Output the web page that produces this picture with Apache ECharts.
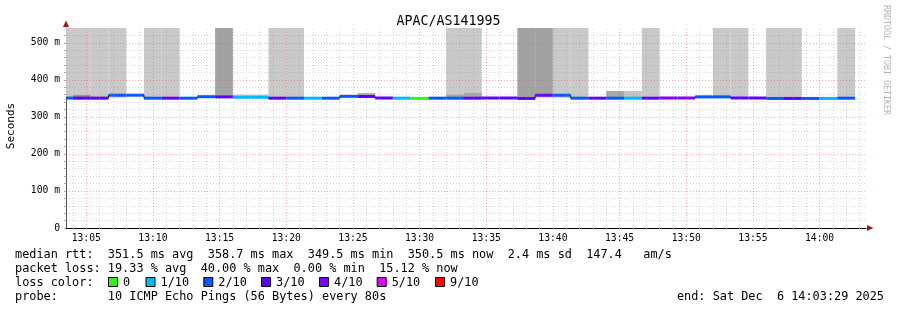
<!DOCTYPE html>
<html><head><meta charset="utf-8">
<script src="https://cdn.jsdelivr.net/npm/echarts@6/dist/echarts.min.js"></script>
<style>html,body{margin:0;padding:0;background:#fff}#c{width:897px;height:310px}</style>
</head><body><div id="c"></div>
<script>
// ---- data ----
const chartTitle = 'APAC/AS141995';
const rangeStart = '13:03:29';
const rangeEnd = '14:03:29';
const stepStarts = ['13:02:40','13:04:00','13:05:20','13:06:40','13:08:00','13:09:20','13:10:40','13:12:00','13:13:20','13:14:40',
  '13:16:00','13:17:20','13:18:40','13:20:00','13:21:20','13:22:40','13:24:00','13:25:20','13:26:40','13:28:00',
  '13:29:20','13:30:40','13:32:00','13:33:20','13:34:40','13:36:00','13:37:20','13:38:40','13:40:00','13:41:20',
  '13:42:40','13:44:00','13:45:20','13:46:40','13:48:00','13:49:20','13:50:40','13:52:00','13:53:20','13:54:40',
  '13:56:00','13:57:20','13:58:40','14:00:00','14:01:20'];
const lastStepEnd = '14:02:40';
const medianMs = [350.8,350.5,350.5,358.6,358.6,350.5,350.5,350.5,354.5,354.0,
  353.0,353.0,350.5,350.5,350.5,350.5,355.5,355.0,351.0,350.5,
  350.0,350.5,350.5,350.5,351.0,351.0,349.8,358.5,358.5,350.5,
  350.5,350.5,350.5,350.5,351.0,351.0,354.0,354.0,351.0,351.0,
  349.8,349.8,349.8,349.8,350.5];
const lossTenths = [2,3,3,2,2,2,3,2,2,3,
  1,1,3,2,1,2,2,3,3,1,
  0,2,2,3,3,3,3,3,2,2,
  3,2,1,3,4,4,2,2,3,3,
  2,3,2,1,2];
// outlier pings above the graph top: 0 none, 1 one ping (light), 2 two pings (darker)
const spikeShade = [1,1,1,1,0,1,1,0,0,2,
  0,0,1,1,0,0,0,0,0,0,
  0,0,1,1,0,0,2,2,1,1,
  0,0,0,1,0,0,0,1,1,0,
  1,1,0,0,1];
const smokeLow = [null,350.5,350.5,352,null,null,null,null,null,null,
  353,353,null,null,null,null,null,354,null,null,
  null,null,350.5,350.5,null,null,null,352,352,null,
  null,351,351,null,null,null,352,352,null,null,
  null,null,null,null,null];
const smokeHigh = [null,358.5,355,358.6,null,null,null,null,null,null,
  360,360,null,null,null,null,null,364,null,null,
  null,null,360,365,null,null,null,358.5,358.5,null,
  null,370,370,null,null,null,357,357,null,null,
  null,null,null,null,null];
const smokeShade = [null,3,2,1,null,null,null,null,null,null,
  1,1,null,null,null,null,null,2,null,null,
  null,null,2,2,null,null,null,1,1,null,
  null,2,1,null,null,null,2,2,null,null,
  null,null,null,null,null];
const yMax = 540;
const yLabelValues = [0,100,200,300,400,500];
const xLabelTimes = ['13:05','13:10','13:15','13:20','13:25','13:30','13:35','13:40','13:45','13:50','13:55','14:00'];
const lossLegendLabels = ['0','1/10','2/10','3/10','4/10','5/10','9/10'];
const lossLegendTenths = [0,1,2,3,4,5,9];
const lossColors = {0:'#26ff00',1:'#00b8ff',2:'#0059ff',3:'#5e00ff',4:'#7e00ff',5:'#dd00ff',9:'#ff0000'};
const rttStats = ['351.5','358.7','349.5','350.5','2.4','147.4'];
const lossStats = ['19.33','40.00','0.00','15.12'];
const probeText = '10 ICMP Echo Pings (56 Bytes) every 80s';
const endText = 'Sat Dec  6 14:03:29 2025';

// ---- helpers ----
function toMin(s){const p=s.split(':').map(Number);return (p[0]-13)*60+p[1]+(p[2]||0)/60;}
const xMin = toMin(rangeStart), xMax = toMin(rangeEnd);
const stepEnds = stepStarts.slice(1).concat([lastStepEnd]);
const MONO = '"DejaVu Sans Mono", monospace';
const spikeFill = {1:'#c9c9c9',2:'#a2a2a2'};
const smokeFill = {1:'#c4c4c4',2:'#a8a8a8',3:'#8c8c8c'};

const spikeData = [], smokeData = [], medianData = [];
stepStarts.forEach((s,i)=>{
  const t0 = toMin(s), t1 = toMin(stepEnds[i]);
  if (spikeShade[i]) spikeData.push([t0,t1,medianMs[i],yMax,spikeShade[i]]);
  if (smokeLow[i]!=null) smokeData.push([t0,t1,smokeLow[i],smokeHigh[i],smokeShade[i]]);
  medianData.push([t0,t1,medianMs[i],lossTenths[i], i>0?medianMs[i-1]:medianMs[i]]);
});

function clipRect(p0,p1,cs){
  return echarts.graphic.clipRectByRect(
    {x:p0[0],y:p0[1],width:p1[0]-p0[0],height:p1[1]-p0[1]},
    {x:cs.x,y:cs.y,width:cs.width,height:cs.height});
}
function rectRender(fills){
  return function(params, api){
    const p0 = api.coord([api.value(0), api.value(3)]);
    const p1 = api.coord([api.value(1), api.value(2)]);
    const shape = clipRect(p0,p1,params.coordSys);
    if (!shape) return;
    return {type:'rect', shape, style:{fill:fills[api.value(4)]}};
  };
}

// grid lines (markLine)
const minorColor = 'rgba(150,150,150,0.38)';
const majorColor = 'rgba(255,70,70,0.42)';
const gridLines = [];
for (let m = Math.ceil(xMin); m <= Math.floor(xMax); m++) {
  if (m % 5 !== 0) gridLines.push({xAxis:m, lineStyle:{color:minorColor}});
}
for (let v = 20; v < yMax; v += 20) {
  if (v % 100 !== 0) gridLines.push({yAxis:v, lineStyle:{color:minorColor}});
}
xLabelTimes.forEach(t=>gridLines.push({xAxis:toMin(t), lineStyle:{color:majorColor}}));
yLabelValues.slice(1).forEach(v=>gridLines.push({yAxis:v, lineStyle:{color:majorColor}}));

const minuteTicks = [];
for (let m = Math.ceil(xMin); m <= Math.floor(xMax); m++) minuteTicks.push(m);
const yMinorTicks = [];
for (let v = 0; v < yMax; v += 20) yMinorTicks.push(v);

// legend graphics
const g = [];
const rowY = [255,269,283,297];
const F = '11.86px '+MONO;
g.push({type:'text', x:15, y:rowY[0], style:{text:'median rtt:  '+rttStats[0]+' ms avg  '+rttStats[1]+' ms max  '+rttStats[2]+' ms min  '+rttStats[3]+' ms now  '+rttStats[4]+' ms sd  '+rttStats[5]+'   am/s', font:F, fill:'#000', textVerticalAlign:'middle'}});
g.push({type:'text', x:15, y:rowY[1], style:{text:'packet loss: '+lossStats[0]+' % avg  '+lossStats[1]+' % max  '+lossStats[2]+' % min  '+lossStats[3]+' % now', font:F, fill:'#000', textVerticalAlign:'middle'}});
g.push({type:'text', x:15, y:rowY[2], style:{text:'loss color:', font:F, fill:'#000', textVerticalAlign:'middle'}});
const boxX = [108,145.5,203.3,261,319,376.7,435];
lossLegendLabels.forEach((lab,i)=>{
  g.push({type:'rect', shape:{x:boxX[i]+0.5, y:rowY[2]-5.5, width:9, height:9}, style:{fill:lossColors[lossLegendTenths[i]], stroke:'#000', lineWidth:1}});
  g.push({type:'text', x:boxX[i]+15, y:rowY[2], style:{text:lab, font:F, fill:'#000', textVerticalAlign:'middle'}});
});
g.push({type:'text', x:15, y:rowY[3], style:{text:'probe:       '+probeText, font:F, fill:'#000', textVerticalAlign:'middle'}});
g.push({type:'text', x:884, y:rowY[3], style:{text:'end: '+endText, font:F, fill:'#000', textAlign:'right', textVerticalAlign:'middle'}});
g.push({type:'text', x:11, y:126, rotation:Math.PI/2, style:{text:'Seconds', font:'11px '+MONO, fill:'#000', textAlign:'center', textVerticalAlign:'middle'}});
g.push({type:'text', x:886, y:5, rotation:-Math.PI/2, style:{text:'RRDTOOL / TOBI OETIKER', font:'8.3px '+MONO, fill:'#b4b4b4', textAlign:'left', textVerticalAlign:'middle'}});
g.push({type:'polygon', shape:{points:[[63,27],[69,27],[66,20.5]]}, style:{fill:'#9a1c1c'}});
g.push({type:'polygon', shape:{points:[[867,225],[867,231],[873.5,228]]}, style:{fill:'#9a1c1c'}});

const chart = echarts.init(document.getElementById('c'), null, {renderer:'canvas'});
chart.setOption({
  animation:false,
  backgroundColor:'#fff',
  title:{text:chartTitle, left:'center', top:10, textStyle:{fontFamily:MONO, fontSize:13.3, fontWeight:'normal', color:'#000'}},
  grid:{left:66, right:31, top:28, bottom:82, containLabel:false},
  xAxis:{type:'value', min:xMin, max:xMax,
    axisLine:{show:true, lineStyle:{color:'#000', width:1}},
    axisTick:{show:true, customValues:minuteTicks, length:2, lineStyle:{color:'#aaa'}},
    axisLabel:{customValues:xLabelTimes.map(toMin), margin:5, fontFamily:MONO, fontSize:9.7, color:'#000',
      formatter:v=>{const h=13+Math.floor(v/60), m=Math.round(v%60);return h+':'+String(m).padStart(2,'0');}},
    splitLine:{show:false}},
  yAxis:{type:'value', min:0, max:yMax,
    axisLine:{show:true, lineStyle:{color:'#555', width:1}},
    axisTick:{show:true, customValues:yMinorTicks, length:2, lineStyle:{color:'#aaa'}},
    axisLabel:{customValues:yLabelValues, margin:6, fontFamily:MONO, fontSize:9.7, color:'#000',
      formatter:v=>v===0?'0':v+' m'},
    splitLine:{show:false}},
  graphic:g,
  series:[
    {type:'custom', name:'spikes', z:1, data:spikeData, encode:{x:[0,1], y:[2,3]}, renderItem:rectRender(spikeFill), silent:true},
    {type:'line', name:'grid', z:2, data:[[xMin,-10]], symbol:'none', lineStyle:{opacity:0}, silent:true,
      markLine:{silent:true, symbol:'none', label:{show:false}, animation:false, lineStyle:{width:1, type:[1,2]}, data:gridLines}},
    {type:'custom', name:'smoke', z:3, data:smokeData, encode:{x:[0,1], y:[2,3]}, renderItem:rectRender(smokeFill), silent:true},
    {type:'custom', name:'median', z:4, data:medianData, encode:{x:[0,1], y:2}, silent:true,
      renderItem:function(params, api){
        const t0=api.value(0), t1=api.value(1), v=api.value(2), loss=api.value(3), pv=api.value(4);
        const cs=params.coordSys;
        const a=api.coord([t0,v]), b=api.coord([t1,v]);
        const x0=Math.max(a[0],cs.x), x1=Math.min(b[0],cs.x+cs.width);
        const ch=[{type:'line', shape:{x1:x0,y1:a[1],x2:x1,y2:b[1]}, style:{stroke:lossColors[loss], lineWidth:3}}];
        if (Math.abs(pv-v)>1 && a[0]>=cs.x) {
          const pp=api.coord([t0,pv]);
          ch.push({type:'line', shape:{x1:a[0],y1:pp[1],x2:a[0],y2:a[1]}, style:{stroke:'#222', lineWidth:1}});
        }
        return {type:'group', children:ch};
      }}
  ]
});
</script></body></html>
